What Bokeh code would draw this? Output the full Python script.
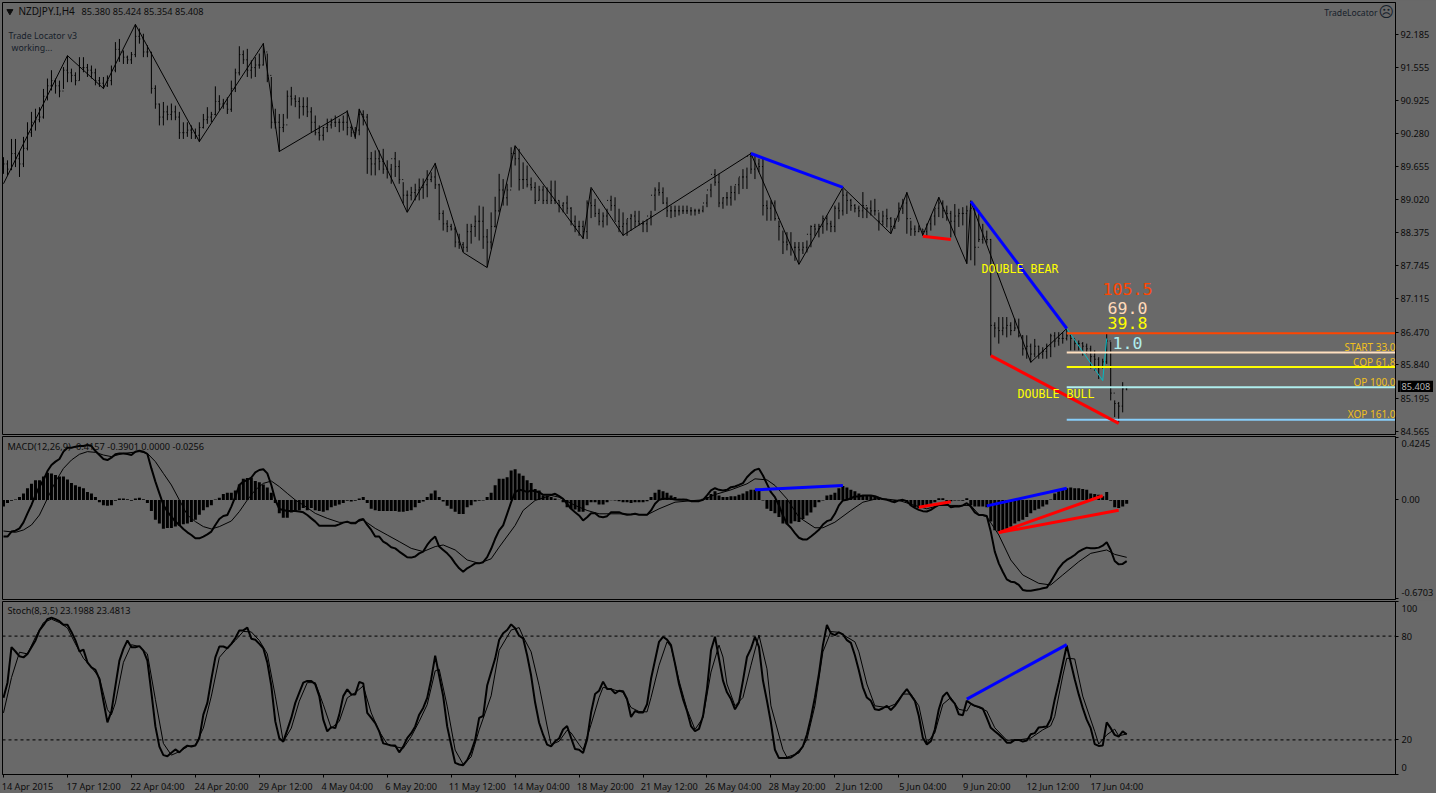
from bokeh.plotting import figure
from bokeh.layouts import column
from bokeh.models import Range1d, FixedTicker, Label, Span
from bokeh.embed import file_html
from bokeh.resources import INLINE

symbol_name = "NZDJPY.I,H4"
symbol_quote = "85.380 85.424 85.354 85.408"
macd_title = "MACD(12,26,9) -0.4157 -0.3901 0.0000 -0.0256"
stoch_title = "Stoch(8,3,5) 23.1988 23.4813"

highs = [
89.83,89.77,90.18,90.18,89.93,90.22,90.50,90.70,90.76,90.79,
91.14,91.34,91.50,91.34,91.30,91.56,91.78,91.53,91.46,91.75,
91.75,91.62,91.59,91.53,91.37,91.37,91.40,91.59,92.04,92.10,
91.88,91.78,91.85,92.38,92.30,92.20,91.98,91.85,91.21,90.86,
90.89,90.82,90.86,90.82,90.70,90.50,90.50,90.44,90.38,90.50,
90.66,90.79,90.70,91.19,91.02,90.95,90.98,91.30,91.53,91.96,
91.88,91.91,91.69,91.75,91.82,92.02,91.82,91.37,90.76,90.66,
90.66,91.11,91.18,91.02,90.98,90.98,90.98,90.79,90.63,90.44,
90.41,90.57,90.57,90.63,90.57,90.63,90.73,90.44,90.41,90.76,
90.73,90.66,89.93,89.96,89.96,89.99,89.77,89.70,89.93,89.77,
89.35,89.19,89.26,89.32,89.42,89.42,89.58,89.54,89.72,89.32,
88.81,88.62,88.55,88.49,88.36,88.20,88.55,88.55,88.71,88.90,
88.88,88.45,88.77,89.07,89.51,89.41,89.32,90.02,90.05,89.99,
89.73,89.67,89.44,89.35,89.28,89.28,89.25,89.38,89.38,89.00,
88.96,89.09,88.87,88.71,88.61,88.61,89.00,89.22,89.03,88.84,
88.77,88.84,89.09,89.06,88.84,88.77,88.64,88.74,88.80,88.80,
88.61,88.64,88.80,89.25,89.35,89.25,89.06,88.90,88.90,88.90,
88.90,88.90,88.87,88.84,88.84,88.90,89.12,89.32,89.60,89.51,
89.06,89.16,89.28,89.28,89.44,89.60,89.63,89.92,89.89,89.80,
89.80,89.00,89.00,89.00,88.61,88.42,88.39,88.39,88.20,88.20,
88.20,88.23,88.52,88.55,88.55,88.71,88.71,88.61,88.90,88.96,
89.22,89.16,89.03,88.93,88.90,89.16,88.87,89.00,89.03,88.77,
88.80,88.84,88.68,88.66,88.96,89.03,89.16,88.61,88.52,88.52,
88.45,88.55,88.68,88.84,89.06,89.00,88.90,88.80,88.93,88.84,
88.87,88.90,89.00,88.87,88.81,88.55,88.42,88.26,86.66,86.76,
86.76,86.76,86.66,86.73,86.73,86.41,86.41,86.25,86.34,86.21,
86.18,86.25,86.44,86.47,86.47,86.47,86.53,86.44,86.34,86.31,
86.28,86.25,86.21,86.12,85.99,85.96,86.44,86.28,85.16,85.13,85.51,85.424]

lows = [
89.51,89.48,89.58,89.64,89.45,89.64,89.96,90.22,90.34,90.50,
90.57,90.92,91.11,91.05,90.98,91.14,91.27,91.27,91.21,91.30,
91.46,91.37,91.34,91.21,91.18,91.14,91.18,91.21,91.46,91.66,
91.62,91.62,91.62,91.75,92.01,91.75,91.75,91.05,90.76,90.44,
90.44,90.54,90.54,90.54,90.18,90.18,90.22,90.18,90.18,90.12,
90.38,90.47,90.50,90.63,90.73,90.76,90.66,90.70,91.08,91.40,
91.62,91.37,91.34,91.37,91.53,91.59,91.27,90.38,90.38,89.93,
90.31,90.57,90.82,90.79,90.57,90.63,90.60,90.31,90.25,90.15,
90.15,90.31,90.38,90.41,90.31,90.34,90.25,90.22,90.18,90.25,
90.44,89.51,89.48,89.48,89.58,89.51,89.42,89.32,89.45,89.32,
88.94,88.78,89.00,89.00,89.00,89.03,89.06,89.35,89.22,88.62,
88.42,88.39,88.42,88.10,88.07,88.01,88.01,88.17,88.30,88.23,
88.07,87.72,88.07,88.48,88.77,88.90,88.90,89.25,89.67,89.19,
89.22,89.25,89.19,88.93,89.00,88.93,88.93,88.93,88.93,88.77,
88.77,88.74,88.52,88.39,88.32,88.26,88.26,88.66,88.68,88.52,
88.48,88.52,88.80,88.61,88.39,88.32,88.32,88.42,88.48,88.52,
88.39,88.39,88.52,88.80,89.09,88.93,88.68,88.66,88.68,88.71,
88.74,88.74,88.71,88.71,88.74,88.77,88.87,89.06,89.28,88.87,
88.84,88.90,88.90,89.00,89.12,89.22,89.22,89.51,89.41,89.54,
88.71,88.61,88.61,88.61,88.23,87.97,88.04,87.94,87.84,87.78,
87.97,88.00,88.10,88.32,88.29,88.36,88.42,88.39,88.39,88.64,
88.71,88.74,88.80,88.77,88.68,88.66,88.66,88.71,88.71,88.42,
88.52,88.48,88.36,88.45,88.61,88.74,88.36,88.32,88.32,88.39,
88.32,88.32,88.42,88.52,88.68,88.66,88.61,88.29,88.33,88.49,
88.52,87.78,87.85,87.75,88.20,88.17,88.17,86.02,86.37,86.25,
86.41,86.37,86.41,86.50,86.37,86.02,85.96,85.89,85.99,85.96,
85.96,85.96,85.99,86.18,86.21,86.25,86.31,86.12,86.12,86.12,
86.02,86.05,85.77,85.73,85.57,85.77,85.86,85.16,84.84,84.74,84.93,85.354]

closes = [
89.70,89.60,89.90,89.80,89.70,90.00,90.30,90.50,90.55,90.60,
91.00,91.20,91.30,91.20,91.10,91.50,91.45,91.40,91.30,91.55,
91.55,91.50,91.45,91.30,91.25,91.20,91.30,91.50,91.90,91.85,
91.75,91.70,91.80,92.15,92.10,91.85,91.85,91.15,90.85,90.60,
90.70,90.65,90.70,90.60,90.30,90.30,90.35,90.30,90.25,90.40,
90.55,90.60,90.65,90.90,90.85,90.85,90.75,91.15,91.45,91.80,
91.70,91.50,91.55,91.60,91.60,91.85,91.40,90.50,90.50,90.40,
90.45,91.00,90.95,90.90,90.80,90.80,90.70,90.50,90.30,90.25,
90.40,90.45,90.50,90.50,90.50,90.50,90.40,90.30,90.35,90.65,
90.60,89.80,89.70,89.80,89.75,89.60,89.60,89.80,89.65,89.40,
89.10,89.10,89.15,89.20,89.25,89.30,89.40,89.45,89.30,88.75,
88.55,88.50,88.45,88.20,88.15,88.10,88.40,88.50,88.60,88.60,
88.30,88.20,88.50,88.80,89.20,89.05,89.20,89.90,89.80,89.40,
89.40,89.30,89.25,89.00,89.20,89.00,89.20,89.00,89.00,88.90,
88.95,88.85,88.60,88.50,88.50,88.40,88.95,88.90,88.75,88.60,
88.70,89.00,88.90,88.60,88.50,88.55,88.65,88.70,88.60,88.55,
88.55,88.70,89.10,89.20,89.15,88.95,88.80,88.80,88.80,88.80,
88.80,88.80,88.80,88.80,88.80,88.95,89.20,89.50,89.35,88.95,
89.05,89.05,89.15,89.30,89.45,89.45,89.85,89.60,89.70,89.65,
88.90,88.85,88.95,88.65,88.50,88.20,88.15,88.10,88.10,88.05,
88.10,88.35,88.50,88.45,88.50,88.65,88.55,88.50,88.85,88.80,
89.10,89.00,88.90,88.85,88.80,88.90,88.85,88.80,88.80,88.60,
88.70,88.65,88.50,88.60,88.85,88.95,88.65,88.45,88.40,88.45,
88.40,88.55,88.70,88.85,88.95,88.80,88.75,88.60,88.70,88.75,
88.75,88.80,88.85,88.10,88.25,88.30,88.25,86.60,86.55,86.50,
86.55,86.60,86.50,86.55,86.40,86.15,86.20,86.05,86.20,86.05,
86.10,86.20,86.40,86.30,86.35,86.35,86.40,86.35,86.25,86.25,
86.20,86.15,86.00,85.95,85.80,85.90,86.30,85.30,85.10,85.05,85.38,85.408]

zigzag_i = [0,16,25,33,49,65,69,86,88,89,101,108,115,121,128,145,147,155,187,199,210,222,226,230,234,241,242,247,257,266]
zigzag_p = [89.32,91.78,91.15,92.38,90.13,92.01,89.94,90.71,90.21,90.75,88.77,89.71,88.00,87.71,90.05,88.27,89.25,88.33,89.90,87.77,89.25,88.36,89.15,88.33,89.06,87.79,88.98,87.94,85.89,86.54]

cyan_i = [266,275,276]
cyan_p = [86.54,85.54,86.35]

bear_i = [[187,210],[242,266]]
bear_p = [[89.90,89.25],[88.98,86.54]]
bull_i = [[230,237],[247,279]]
bull_p = [[88.31,88.25],[86.02,84.72]]

level_names = ["START 33.0","COP 61.8","OP 100.0","XOP 161.0"]
level_prices = [86.45,86.08,85.80,85.41,84.79]
level_colors = ["#ff4500","#ffe0c0","#ffff00","#afeeee","#87cefa"]
level_start = 266
last_price = "85.408"

price_ticks = [92.185,91.555,90.925,90.280,89.655,89.020,88.375,87.745,87.115,86.470,85.840,85.195,84.565]
price_tick_text = ["92.185","91.555","90.925","90.280","89.655","89.020","88.375","87.745","87.115","86.470","85.840","85.195","84.565"]

hist = [
-0.045,-0.02,-0.005,0.003,0.02,0.045,0.08,0.11,0.135,0.135,
0.16,0.185,0.18,0.17,0.16,0.16,0.14,0.115,0.10,0.09,
0.08,0.055,0.045,0.02,-0.015,-0.035,-0.04,-0.035,-0.005,0.01,
0.01,0.005,-0.005,0.01,0.015,0.005,-0.02,-0.075,-0.135,-0.16,
-0.195,-0.19,-0.19,-0.18,-0.175,-0.165,-0.16,-0.15,-0.135,-0.10,
-0.07,-0.05,-0.035,0.003,0.015,0.04,0.05,0.05,0.065,0.105,
0.145,0.15,0.15,0.13,0.12,0.105,0.085,0.05,-0.02,-0.09,
-0.12,-0.12,-0.085,-0.075,-0.07,-0.055,-0.07,-0.055,-0.07,-0.075,
-0.08,-0.07,-0.05,-0.04,-0.03,-0.02,-0.005,-0.01,-0.005,0.01,
0.02,-0.02,-0.06,-0.07,-0.075,-0.075,-0.075,-0.075,-0.075,-0.08,
-0.08,-0.075,-0.07,-0.05,-0.02,-0.01,0.02,0.045,0.065,0.02,
-0.01,-0.04,-0.06,-0.08,-0.095,-0.095,-0.05,-0.035,-0.01,-0.005,
-0.003,0.02,0.05,0.10,0.145,0.145,0.155,0.20,0.21,0.18,
0.165,0.135,0.115,0.075,0.065,0.03,0.03,0.02,0.01,0.002,
-0.015,-0.05,-0.06,-0.065,-0.08,-0.08,-0.035,-0.015,-0.015,-0.03,
-0.03,-0.015,-0.002,-0.003,-0.008,-0.015,-0.015,-0.02,-0.015,-0.015,
-0.015,-0.008,0.02,0.05,0.07,0.06,0.05,0.03,0.02,0.008,
0.003,-0.003,-0.003,-0.003,-0.003,0.008,0.02,0.04,0.06,0.03,
0.02,0.02,0.025,0.025,0.035,0.045,0.06,0.07,0.07,0.065,
-0.003,-0.06,-0.075,-0.09,-0.115,-0.16,-0.165,-0.16,-0.145,-0.15,
-0.13,-0.105,-0.085,-0.05,-0.015,-0.003,0.03,0.035,0.05,0.08,
0.095,0.085,0.07,0.06,0.045,0.03,0.03,0.03,0.025,0.015,
0.008,0.003,-0.003,-0.008,-0.003,-0.003,-0.015,-0.035,-0.05,-0.055,
-0.055,-0.04,-0.025,-0.015,0.012,0.012,-0.015,-0.008,-0.003,-0.003,
-0.005,0.012,-0.035,-0.045,-0.045,-0.045,-0.05,-0.147,-0.205,-0.215,
-0.205,-0.195,-0.18,-0.16,-0.145,-0.135,-0.115,-0.09,-0.07,-0.06,
-0.045,-0.03,0.003,0.045,0.06,0.07,0.08,0.085,0.08,0.08,
0.075,0.07,0.045,0.04,0.035,0.025,0.055,-0.005,-0.05,-0.055,-0.045,-0.0256]

macd = [
-0.249,-0.249,-0.215,-0.209,-0.193,-0.152,-0.091,-0.034,0.034,0.091,
0.136,0.197,0.238,0.261,0.279,0.329,0.356,0.356,0.363,0.367,
0.367,0.374,0.367,0.333,0.306,0.279,0.272,0.288,0.311,0.317,
0.317,0.313,0.306,0.329,0.336,0.329,0.313,0.215,0.125,0.045,
-0.034,-0.079,-0.113,-0.147,-0.170,-0.197,-0.220,-0.238,-0.261,-0.261,
-0.249,-0.234,-0.215,-0.170,-0.129,-0.109,-0.102,-0.045,0.023,0.102,
0.125,0.136,0.152,0.188,0.204,0.209,0.181,0.102,0.0,-0.061,
-0.068,-0.075,-0.075,-0.075,-0.079,-0.084,-0.102,-0.125,-0.147,-0.175,
-0.175,-0.175,-0.175,-0.175,-0.166,-0.154,-0.147,-0.159,-0.159,-0.136,
-0.129,-0.170,-0.204,-0.249,-0.249,-0.283,-0.299,-0.322,-0.329,-0.351,
-0.370,-0.390,-0.392,-0.385,-0.363,-0.351,-0.306,-0.272,-0.249,-0.317,
-0.340,-0.363,-0.392,-0.431,-0.465,-0.488,-0.465,-0.449,-0.431,-0.431,
-0.423,-0.389,-0.332,-0.264,-0.207,-0.173,-0.094,-0.015,0.053,0.069,
0.065,0.053,0.065,0.060,0.053,0.035,0.035,0.035,0.042,0.026,
0.008,-0.026,-0.060,-0.083,-0.105,-0.139,-0.117,-0.090,-0.090,-0.112,
-0.117,-0.110,-0.083,-0.083,-0.083,-0.094,-0.101,-0.099,-0.094,-0.101,
-0.101,-0.101,-0.071,-0.026,0.001,0.008,0.008,0.008,0.003,0.001,
0.003,0.001,-0.008,-0.008,-0.008,0.001,0.031,0.065,0.080,0.069,
0.065,0.069,0.087,0.092,0.103,0.115,0.155,0.183,0.205,0.212,
0.167,0.110,0.053,0.019,-0.037,-0.105,-0.162,-0.189,-0.226,-0.257,
-0.269,-0.269,-0.248,-0.226,-0.203,-0.167,-0.144,-0.135,-0.094,-0.037,
-0.003,0.001,0.012,0.024,0.024,0.031,0.031,0.031,0.026,0.015,
0.006,0.001,-0.008,-0.015,-0.003,0.001,-0.008,-0.037,-0.053,-0.067,
-0.076,-0.078,-0.067,-0.049,-0.033,-0.031,-0.026,-0.049,-0.044,-0.044,
-0.037,-0.022,-0.045,-0.084,-0.102,-0.102,-0.109,-0.215,-0.351,-0.431,
-0.488,-0.540,-0.556,-0.560,-0.578,-0.612,-0.617,-0.617,-0.612,-0.608,
-0.601,-0.596,-0.556,-0.510,-0.465,-0.431,-0.408,-0.392,-0.374,-0.351,
-0.336,-0.324,-0.329,-0.329,-0.324,-0.311,-0.288,-0.340,-0.415,-0.438,-0.435,-0.4157]

signal_i = [0,3,5,7,9,11,13,15,17,19,21,23,25,27,30,34,36,38,40,42,44,46,48,50,52,54,57,59,61,63,65,67,69,71,73,75,78,81,84,88,90,93,96,99,102,105,108,110,113,116,119,
122,124,128,130,133,137,139,143,146,149,154,161,164,168,173,175,178,182,186,188,191,193,196,199,203,205,208,212,215,219,224,228,231,234,239,242,
244,246,249,252,255,259,262,265,269,272,276,278,281]
signal_v = [-0.211,-0.220,-0.204,-0.170,-0.102,0.011,0.125,0.215,0.272,0.311,0.329,0.324,0.306,0.295,0.317,0.329,0.317,0.261,0.181,0.102,0.0,-0.102,-0.147,-0.181,-0.197,-0.181,-0.143,-0.079,0.0,0.068,0.113,0.129,0.091,0.045,0.0,-0.034,-0.091,-0.125,-0.152,-0.152,-0.136,-0.193,-0.238,-0.283,-0.329,-0.351,-0.317,-0.306,-0.340,-0.408,-0.431,
-0.400,-0.321,-0.173,-0.071,-0.003,0.031,0.019,-0.037,-0.071,-0.094,-0.094,-0.101,-0.060,-0.015,-0.003,0.001,0.037,0.069,0.110,0.144,0.137,0.099,0.008,-0.117,-0.189,-0.189,-0.151,-0.071,-0.015,0.012,-0.003,-0.037,-0.060,-0.037,-0.037,-0.037,
-0.098,-0.113,-0.238,-0.408,-0.510,-0.567,-0.578,-0.510,-0.420,-0.363,-0.340,-0.370,-0.3901]

macd_up_i = [[188,210],[246,266]]
macd_up_v = [[0.069,0.099],[-0.040,0.080]]
macd_red_i = [[229,237],[249,275],[249,279]]
macd_red_v = [[-0.049,-0.012],[-0.222,0.029],[-0.222,-0.070]]

stoch_k = [
44.3,53.1,73.6,71.1,68.3,67.7,69.7,73.6,77.5,83.3,
86.3,89.8,90.7,89.8,88.6,86.6,86.6,82.4,77.5,71.1,
72.2,64.8,61.9,60.5,55.1,42.4,30.1,36.5,51.2,65.8,
72.6,77.5,73.6,73.6,74.2,71.6,65.8,47.3,27.8,16.1,
11.2,10.6,12.6,14.5,12.8,15.1,16.7,16.1,16.7,21.0,
34.6,41.4,55.1,67.7,74.0,74.0,73.0,75.5,78.9,83.3,
83.3,84.9,78.5,77.9,75.5,73.0,64.8,51.2,30.7,21.0,
19.0,25.8,32.7,41.4,47.3,53.1,54.1,54.1,52.1,45.3,
31.7,24.9,27.4,26.8,34.6,45.3,49.2,46.3,46.3,53.5,
52.7,35.6,32.7,29.7,24.9,18.0,17.4,16.7,16.7,12.8,
16.1,21.0,23.9,27.8,34.6,38.5,44.3,55.1,68.7,57.0,
45.3,27.8,17.1,6.7,5.8,5.4,8.3,13.2,20.0,32.7,
33.8,51.4,59.2,67.0,77.7,81.6,83.5,86.8,84.5,80.2,
78.7,68.9,57.2,41.6,29.9,23.0,17.3,16.3,19.2,20.8,
26.0,28.0,21.2,14.7,14.3,12.4,20.2,35.8,46.5,48.4,
53.7,49.4,49.4,46.9,48.4,48.1,43.6,33.2,36.7,35.8,
35.8,40.6,55.3,66.0,76.7,79.6,78.0,74.8,64.0,52.3,
43.6,36.7,28.0,25.0,26.4,33.8,49.4,71.8,79.6,67.0,
54.3,47.5,43.6,37.7,41.6,54.3,67.9,72.8,79.6,73.8,
54.3,42.6,29.9,14.3,9.5,9.5,9.6,9.8,11.4,13.4,
16.3,23.1,32.8,44.5,58.2,74.8,86.5,81.6,80.6,82.2,
81.0,77.7,76.1,68.9,60.1,50.4,44.5,42.6,37.7,37.3,
38.3,39.7,37.3,39.7,43.0,46.5,49.4,45.9,42.6,33.8,
21.2,17.3,19.2,26.0,37.7,45.1,47.5,43.6,41.0,34.8,
34.2,42.6,41.0,39.7,39.1,38.1,32.8,27.0,25.0,23.1,
21.0,18.4,18.4,20.0,20.0,19.0,19.6,23.3,23.9,27.2,
27.4,27.8,32.1,43.4,53.1,63.8,74.6,64.8,55.1,46.3,
38.5,31.7,26.8,17.6,16.5,16.7,30.1,26.8,22.9,21.9,24.9,23.2]

stoch_d_i = [0,2,4,6,8,10,12,14,16,18,20,22,24,26,27,28,30,32,34,36,38,40,42,44,46,48,50,52,54,56,58,60,62,64,66,68,70,72,74,76,78,80,82,84,86,88,90,92,94,96,98,100,102,104,106,108,109,111,113,115,117,119,
122,124,127,129,130,132,134,136,137,139,141,142,144,145,147,149,150,152,155,157,159,161,162,164,166,167,169,171,173,175,177,179,180,181,183,185,187,189,191,192,195,196,199,201,203,205,207,209,213,214,216,218,221,223,225,227,229,231,233,235,237,239,241,242,246,248,251,
254,257,260,262,263,265,266,268,270,273,274,276,278,279,281]
stoch_d_v = [35.6,56.0,70.7,69.7,79.4,87.8,89.8,87.8,84.7,75.5,67.2,61.9,56.0,37.5,34.6,41.4,64.8,75.0,74.0,69.7,43.4,18.0,11.2,13.2,16.1,17.1,26.8,45.3,67.7,73.0,77.5,82.7,82.4,77.5,69.7,45.3,19.0,26.8,42.4,53.1,53.1,40.4,26.8,30.7,44.3,47.3,51.2,35.6,24.9,17.6,16.1,15.1,21.9,30.7,40.4,59.9,60.9,39.5,14.1,5.9,10.2,25.8,
45.5,71.8,83.5,84.9,79.6,70.9,51.4,28.0,17.3,19.2,25.6,24.1,17.3,14.3,28.9,44.5,50.4,49.4,47.5,38.7,36.4,36.2,44.5,63.1,76.7,73.8,54.3,37.7,26.0,32.8,59.2,74.8,67.9,52.3,39.7,44.5,63.1,80.6,61.1,39.7,14.3,10.0,12.4,20.2,39.7,70.9,82.6,82.2,76.7,70.9,52.3,39.7,38.7,40.6,46.5,46.5,39.7,18.2,24.1,40.6,44.5,37.7,36.7,40.6,36.7,27.0,19.8,
20.0,21.0,25.8,28.2,33.6,57.0,67.2,66.8,45.3,24.9,17.6,22.9,26.2,22.3,23.4813]

stoch_blue_i = [241,266]
stoch_blue_v = [43.6,75.1]

macd_scale_ends = [0.4245,-0.6703]
stoch_levels = [80,20]
stoch_scale = [100,80,20,0]

date_ticks = [0,16,32,48,64,80,96,112,128,144,160,176,192,208,224,240,256,272]
date_labels = ["14 Apr 2015","17 Apr 12:00","22 Apr 04:00","24 Apr 20:00","29 Apr 12:00","4 May 04:00","6 May 20:00","11 May 12:00","14 May 04:00","18 May 20:00","21 May 12:00","26 May 04:00","28 May 20:00","2 Jun 12:00","5 Jun 04:00","9 Jun 20:00","12 Jun 12:00","17 Jun 04:00"]

BG = "#696969"
UI = "Noto Sans"
UI_SIZE = "9.2px"
MONO = "DejaVu Sans Mono"
TXT = "#0c0c0c"
TXT2 = "#16202a"
GOLD = "#f0c020"

bars = list(range(len(highs)))
opens = [closes[0]] + closes[:-1]
x_rng = (-0.25, 348.25)


def panel(height, top, bottom, y_rng):
    f = figure(width=1436, height=height, output_backend="svg", toolbar_location=None,
               x_range=Range1d(*x_rng), y_range=Range1d(*y_rng),
               y_axis_location="right", x_axis_location="below" if bottom > 5 else None,
               min_border_left=2, min_border_right=40, min_border_top=top, min_border_bottom=bottom,
               background_fill_color=BG, border_fill_color=BG,
               outline_line_color="black", outline_line_width=1)
    f.grid.visible = False
    ax = f.yaxis[0]
    ax.axis_line_color = "black"
    ax.major_tick_line_color = "black"
    ax.minor_tick_line_color = "black"
    ax.major_tick_out = 3
    ax.major_tick_in = 0
    ax.minor_tick_out = 0
    ax.minor_tick_in = 0
    ax.major_label_standoff = 2
    ax.major_label_text_font = UI
    ax.major_label_text_font_size = UI_SIZE
    ax.major_label_text_color = TXT
    return f


def scale_only_ticks(ax, label_at, marks):
    """Label positions sit a little inside the ends, as in the terminal; marks keep the true values."""
    ax.ticker = FixedTicker(ticks=list(label_at), minor_ticks=marks)
    ax.major_label_overrides = label_at
    ax.major_tick_out = 0
    ax.minor_tick_out = 3
    ax.major_label_standoff = 3


def note(f, text, px, py, fb, color=TXT, font=UI, size=UI_SIZE, align="left", **kw):
    """Text placed by page pixel; fb is the page y of the panel's frame bottom."""
    f.add_layout(Label(x=px - 2, y=fb - py, x_units="screen", y_units="screen", text=text,
                       text_color=color, text_font=font, text_font_size=size,
                       text_align=align, text_baseline="middle", **kw))


# ---------- price panel ----------
p1 = panel(436, 2, 2, (84.505, 92.80))
FB1 = 434
p1.yaxis[0].ticker = FixedTicker(ticks=price_ticks)
p1.yaxis[0].major_label_overrides = dict(zip(price_ticks, price_tick_text))
p1.segment(bars, lows, bars, highs, line_color="black", line_width=1)
p1.segment([b - 0.25 for b in bars], opens, bars, opens, line_color="black", line_width=1)
p1.segment(bars, closes, [b + 0.25 for b in bars], closes, line_color="black", line_width=1)
p1.line(zigzag_i, zigzag_p, line_color="black", line_width=1)
p1.line(cyan_i, cyan_p, line_color="#00bcc4", line_width=1)
for lp, lc in zip(level_prices, level_colors):
    p1.segment([level_start], [lp], [x_rng[1]], [lp], line_color=lc, line_width=2)
p1.multi_line(bear_i, bear_p, line_color="#0000ff", line_width=3)
p1.multi_line(bull_i, bull_p, line_color="#ff0000", line_width=3)

note(p1, symbol_name, 18, 10.5, FB1, size="10px")
note(p1, symbol_quote, 81, 10.5, FB1)
p1.scatter([1.6], [92.63], marker="inverted_triangle", size=6, color=TXT)
note(p1, "Trade Locator v3", 8, 35.5, FB1, color=TXT2, size="8.8px")
note(p1, "working...", 11, 47.5, FB1, color=TXT2, size="8.8px")
note(p1, "TradeLocator", 1377, 12, FB1, color=TXT2, align="right", size="8.6px")
note(p1, "\u2639", 1385.7, 11.5, FB1, color=TXT2, font="DejaVu Sans", size="15px", align="center")
note(p1, "DOUBLE BEAR", 1019.5, 268, FB1, color="#ffff00", font=MONO, size="11.6px", align="center")
note(p1, "DOUBLE BULL", 1055.5, 393, FB1, color="#ffff00", font=MONO, size="11.6px", align="center")
note(p1, "105.5", 1127, 288.5, FB1, color="#ff4500", font=MONO, size="16.6px", align="center")
note(p1, "69.0", 1127, 307.5, FB1, color="#ffdab9", font=MONO, size="16.6px", align="center")
note(p1, "39.8", 1127, 322.5, FB1, color="#ffff00", font=MONO, size="16.6px", align="center")
note(p1, "1.0", 1127, 342.5, FB1, color="#afeeee", font=MONO, size="16.6px", align="center")
for name, py in zip(level_names, [346.5, 361.5, 381.5, 413]):
    note(p1, name, 1395, py, FB1, color=GOLD, align="right", size="10px")

# ---------- MACD panel ----------
p2 = panel(164, 0, 1, (-0.677, 0.432))
FB2 = 599
scale_only_ticks(p2.yaxis[0], {0.384: "0.4245", 0.0: "0.00", -0.629: "-0.6703"}, macd_scale_ends + [0.0])
p2.vbar(bars, width=0.75, top=hist, bottom=0, color="black", line_color=None)
p2.line(list(range(len(macd))), macd, line_color="black", line_width=2)
p2.line(signal_i, signal_v, line_color="black", line_width=1)
p2.multi_line(macd_up_i, macd_up_v, line_color="#0000ff", line_width=3)
p2.multi_line(macd_red_i, macd_red_v, line_color="#ff0000", line_width=3)
note(p2, macd_title, 7, 445.5, FB2)

# ---------- Stochastic panel ----------
p3 = panel(195, 1, 18, (0, 100))
FB3 = 775
scale_only_ticks(p3.yaxis[0], {96.0: "100", 80: "80", 20: "20", 3.8: "0"}, stoch_scale)
xa = p3.xaxis[0]
label_centres = [t + 0.545 * len(s) for t, s in zip(date_ticks, date_labels)]
xa.ticker = FixedTicker(ticks=label_centres, minor_ticks=date_ticks)
xa.major_label_overrides = dict(zip(label_centres, date_labels))
xa.major_label_text_font = UI
xa.major_label_text_font_size = UI_SIZE
xa.major_label_text_color = TXT
xa.major_label_standoff = 2
xa.major_tick_out = 0
xa.major_tick_in = 0
xa.minor_tick_line_color = "black"
xa.minor_tick_out = 3
xa.minor_tick_in = 0
xa.axis_line_color = "black"
for lv in stoch_levels:
    p3.add_layout(Span(location=lv, dimension="width", line_color="black", line_width=1, line_dash="3 3"))
p3.line(list(range(len(stoch_k))), stoch_k, line_color="black", line_width=2)
p3.line(stoch_d_i, stoch_d_v, line_color="black", line_width=1)
p3.line(stoch_blue_i, stoch_blue_v, line_color="#0000ff", line_width=3)
note(p3, stoch_title, 7, 610.5, FB3)

# ---------- last-price tag over the right scale ----------
tag = figure(width=35, height=12, output_backend="svg", toolbar_location=None,
             x_range=Range1d(0, 1), y_range=Range1d(0, 1),
             x_axis_location=None, y_axis_location="right",
             min_border_left=0, min_border_right=0, min_border_top=0, min_border_bottom=0,
             background_fill_color="black", border_fill_color="black", outline_line_color=None,
             styles={"position": "fixed", "left": "1398px", "top": "380px"})
tag.grid.visible = False
ta = tag.yaxis[0]
ta.ticker = FixedTicker(ticks=[0.5])
ta.major_label_overrides = {0.5: last_price}
ta.major_label_text_color = "#b4b4b4"
ta.major_label_text_font = UI
ta.major_label_text_font_size = UI_SIZE
ta.major_label_standoff = 1
ta.major_tick_out = 0
ta.major_tick_in = 0
ta.minor_tick_out = 0
ta.minor_tick_in = 0
ta.axis_line_color = None

page = column(p1, p2, p3, tag, spacing=0,
              styles={"position": "fixed", "left": "0px", "top": "0px", "background-color": BG})
open("out.html", "w").write(file_html(page, INLINE))
